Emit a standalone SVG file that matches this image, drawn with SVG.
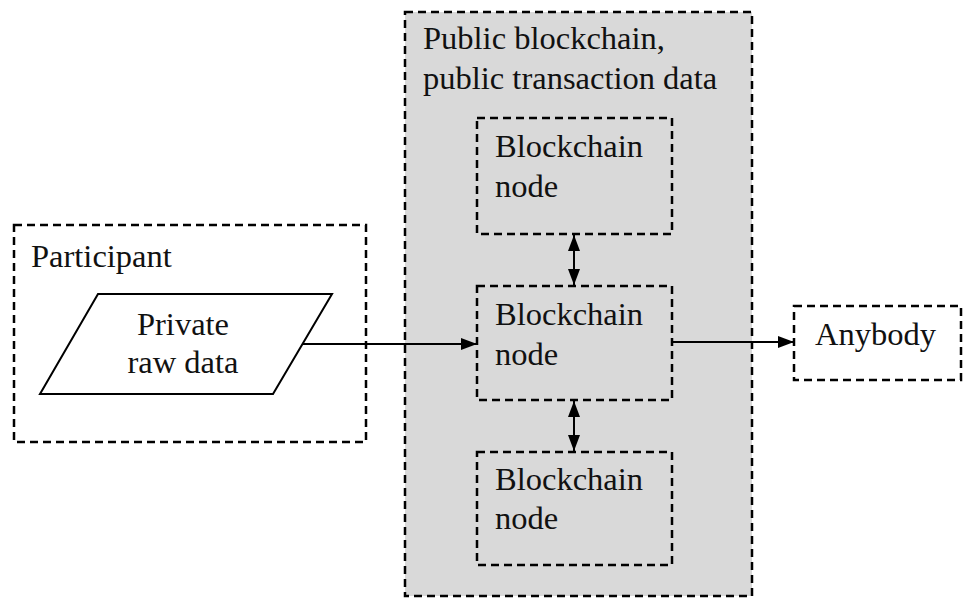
<svg xmlns="http://www.w3.org/2000/svg" width="963" height="599" viewBox="0 0 963 599">
<style>
.box{fill:none;stroke:#000;stroke-width:2.5;stroke-dasharray:8 5}
.gray{fill:#d9d9d9}
.t{font-family:"Liberation Serif","Times New Roman",serif;font-size:32.5px;fill:#111}
.c{stroke:#000;stroke-width:2;fill:none}
</style>
<defs>
<marker id="a" viewBox="0 0 16 12" refX="16" refY="6" markerWidth="16" markerHeight="12" markerUnits="userSpaceOnUse" orient="auto-start-reverse">
<path d="M0,0 L16,6 L0,12 z" fill="#000"/>
</marker>
</defs>
<g id="blockchain">
<rect class="gray" x="405" y="12" width="347" height="584"/>
<rect class="box" x="405" y="12" width="347" height="584"/>
<text class="t" x="423" y="49">Public blockchain,</text>
<text class="t" x="423" y="89">public transaction data</text>
</g>
<g id="node-top">
<rect class="box" x="477" y="118" width="195" height="116"/>
<text class="t" x="495" y="157">Blockchain</text>
<text class="t" x="495" y="197">node</text>
</g>
<g id="node-mid">
<rect class="box" x="477" y="286" width="195" height="114"/>
<text class="t" x="495" y="325">Blockchain</text>
<text class="t" x="495" y="365">node</text>
</g>
<g id="node-bot">
<rect class="box" x="477" y="452" width="195" height="113"/>
<text class="t" x="495" y="490">Blockchain</text>
<text class="t" x="495" y="529">node</text>
</g>
<g id="participant">
<rect class="box" x="14" y="225" width="352" height="217"/>
<text class="t" x="31" y="267">Participant</text>
</g>
<g id="private-data">
<polygon points="98,294 332,294 273,394 40,394" fill="#fff" stroke="#000" stroke-width="2"/>
<text class="t" x="183" y="335" text-anchor="middle">Private</text>
<text class="t" x="183" y="373" text-anchor="middle">raw data</text>
</g>
<g id="anybody">
<rect class="box" x="794" y="306" width="167" height="74"/>
<text class="t" x="815" y="345">Anybody</text>
</g>
<g id="connectors">
<line class="c" x1="303" y1="344" x2="477" y2="344" marker-end="url(#a)"/>
<line class="c" x1="672" y1="342" x2="794" y2="342" marker-end="url(#a)"/>
<line class="c" x1="574" y1="235" x2="574" y2="285" marker-start="url(#a)" marker-end="url(#a)"/>
<line class="c" x1="574" y1="401" x2="574" y2="451" marker-start="url(#a)" marker-end="url(#a)"/>
</g>
</svg>
